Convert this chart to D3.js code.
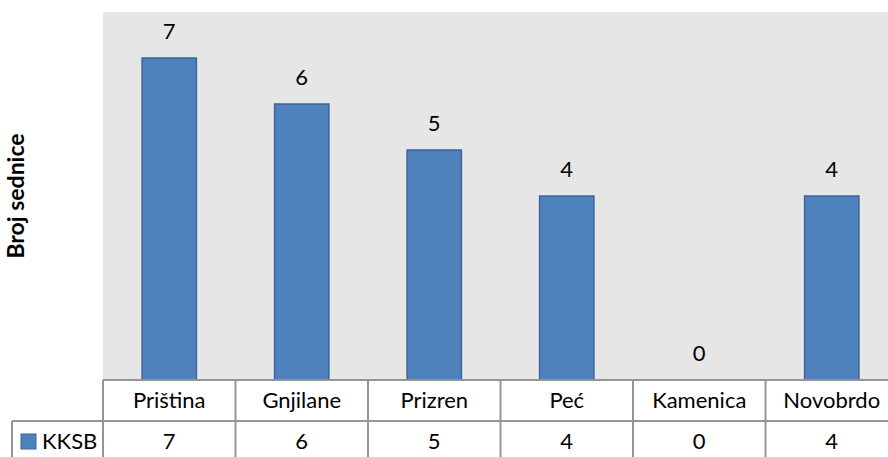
<!DOCTYPE html>
<html>
<head>
<meta charset="utf-8">
<script src="https://cdn.jsdelivr.net/npm/d3@7"></script>
<style>
  body { margin: 0; background: #fff; }
  svg text { font-family: Lato, "Liberation Sans", sans-serif; fill: #000; }
</style>
</head>
<body>
<svg id="chart" width="888" height="457"></svg>
<script>
// chart data
const categories = ['Priština', 'Gnjilane', 'Prizren', 'Peć', 'Kamenica', 'Novobrdo'];
const kksb = [7, 6, 5, 4, 0, 4];
const seriesName = 'KKSB';
const yTitle = 'Broj sednice';

const svg = d3.select('#chart');
const plotLeft = 103, plotRight = 898, plotTop = 12, plotBase = 380;
const row1 = 421, tableBottom = 470;
const grid = '#959595';
const fontSize = 22;

let x = d3.scaleBand().domain(categories).range([plotLeft, plotRight]);
let xBar = d3.scaleBand().domain(categories).range([plotLeft, plotRight])
	.paddingInner(0.59).paddingOuter(0.295);
let y = d3.scaleLinear().domain([0, 8]).range([plotBase, plotTop]);

// plot background
svg.append('rect')
	.attr('x', plotLeft).attr('y', plotTop)
	.attr('width', plotRight - plotLeft).attr('height', plotBase - plotTop)
	.attr('fill', '#e6e6e6');

// bars
svg.append('g')
	.selectAll('rect')
	.data(kksb)
	.enter()
	.append('rect')
	.attr('x', (d, i) => xBar(categories[i]))
	.attr('y', d => y(d))
	.attr('width', xBar.bandwidth())
	.attr('height', d => plotBase - y(d))
	.attr('fill', '#4f81bd')
	.attr('stroke', '#3b659a')
	.attr('stroke-width', 1.5);

// value labels
svg.append('g')
	.selectAll('text')
	.data(kksb)
	.enter()
	.append('text')
	.attr('x', (d, i) => x(categories[i]) + x.bandwidth() / 2)
	.attr('y', d => y(d) - 19)
	.attr('text-anchor', 'middle')
	.attr('font-size', fontSize)
	.text(d => d);

// y title
svg.append('text')
	.attr('transform', `translate(24,${(plotTop + plotBase) / 2}) rotate(-90)`)
	.attr('text-anchor', 'middle')
	.attr('font-size', 23)
	.attr('font-weight', 'bold')
	.text(yTitle);

// data table
let table = svg.append('g')
	.attr('stroke', grid)
	.attr('stroke-width', 2)
	.attr('fill', 'none');
table.append('line').attr('x1', plotLeft).attr('x2', plotRight).attr('y1', plotBase).attr('y2', plotBase);
table.append('line').attr('x1', 12).attr('x2', plotRight).attr('y1', row1).attr('y2', row1);
table.append('line').attr('x1', 12).attr('x2', 12).attr('y1', row1).attr('y2', tableBottom);
table.selectAll('.col')
	.data(categories.concat([null]))
	.enter()
	.append('line')
	.attr('x1', d => d ? x(d) : plotRight)
	.attr('x2', d => d ? x(d) : plotRight)
	.attr('y1', plotBase)
	.attr('y2', tableBottom);

svg.append('g')
	.selectAll('text')
	.data(categories)
	.enter()
	.append('text')
	.attr('x', d => x(d) + x.bandwidth() / 2)
	.attr('y', 408)
	.attr('text-anchor', 'middle')
	.attr('font-size', fontSize)
	.text(d => d);

svg.append('g')
	.selectAll('text')
	.data(kksb)
	.enter()
	.append('text')
	.attr('x', (d, i) => x(categories[i]) + x.bandwidth() / 2)
	.attr('y', 449)
	.attr('text-anchor', 'middle')
	.attr('font-size', fontSize)
	.text(d => d);

// legend key
svg.append('rect')
	.attr('x', 21).attr('y', 434)
	.attr('width', 15).attr('height', 15)
	.attr('fill', '#4f81bd')
	.attr('stroke', '#3b659a')
	.attr('stroke-width', 1);
svg.append('text')
	.attr('x', 42).attr('y', 449)
	.attr('font-size', fontSize)
	.text(seriesName);
</script>
</body>
</html>
